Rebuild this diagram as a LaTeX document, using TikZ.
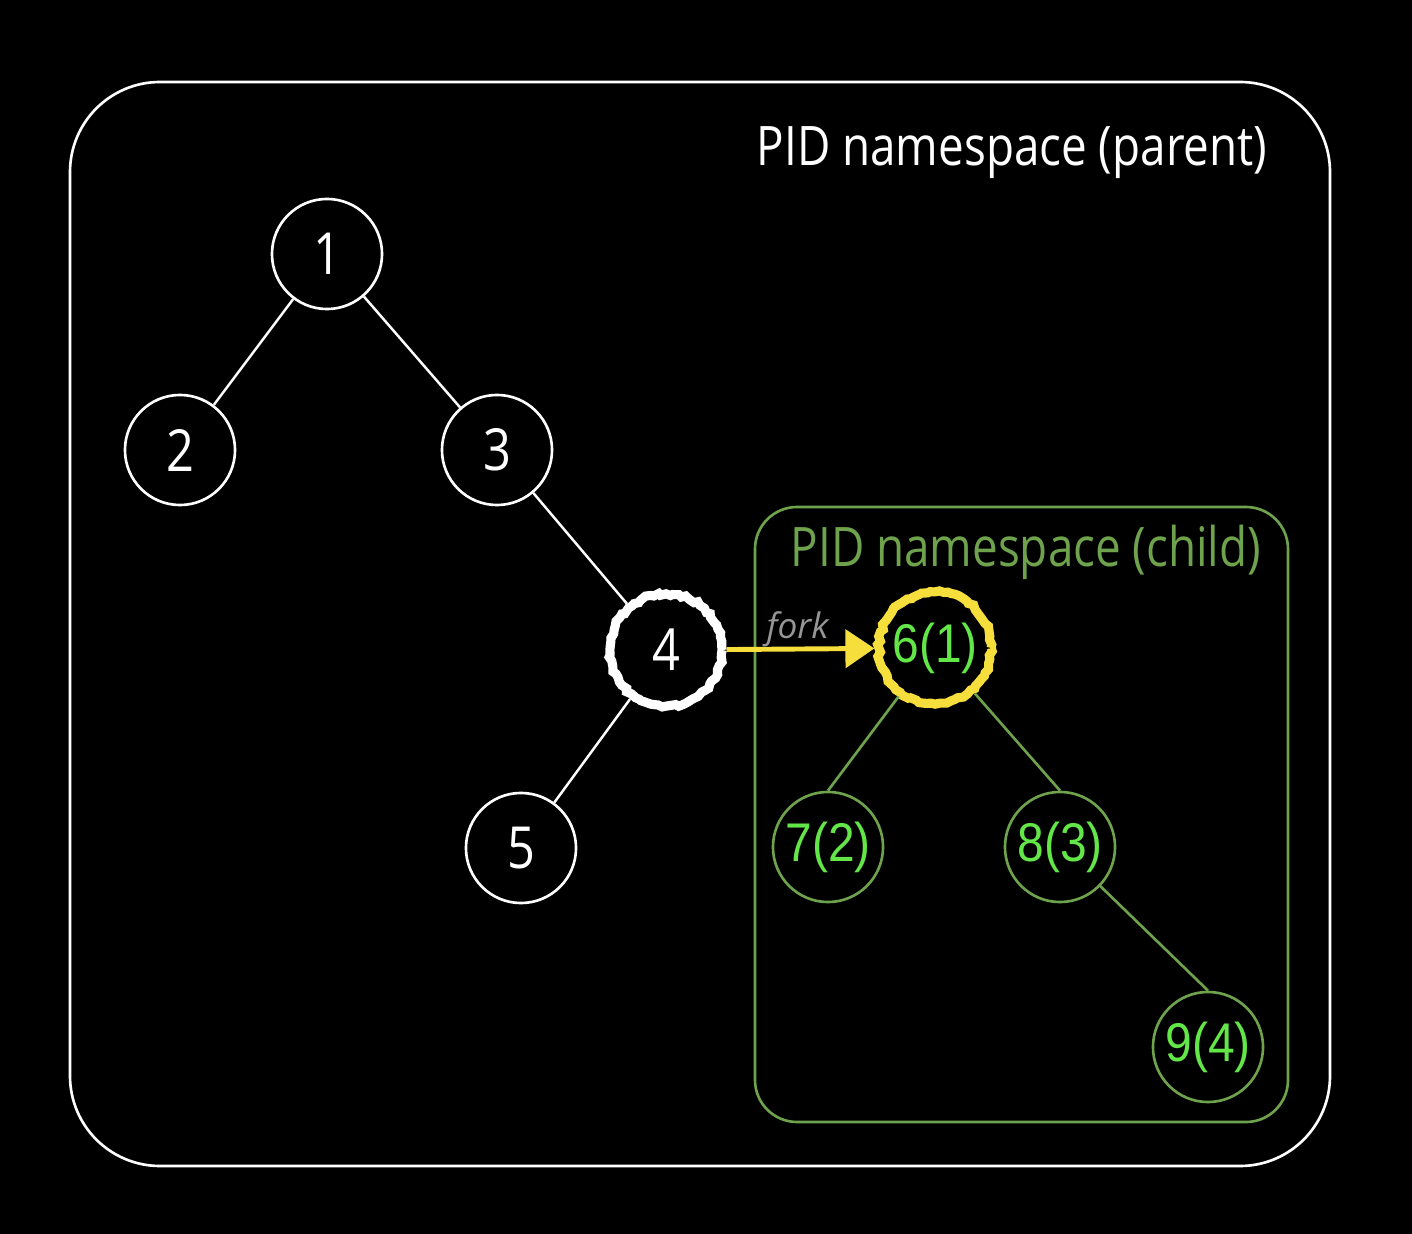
\documentclass[tikz,border=0pt]{standalone}
\usepackage{fontspec}
\setmainfont[FakeStretch=0.84]{Open Sans}
\newfontfamily\pidfont[FakeStretch=0.88]{Liberation Sans}
\newfontfamily\forkfont{Open Sans}
\usetikzlibrary{
    arrows.meta,
    positioning,
    decorations.pathmorphing
}
\definecolor{NsGreen}{RGB}{110,162,76}
\definecolor{PidGreen}{RGB}{98,230,72}
\definecolor{ForkYellow}{RGB}{246,222,60}
\definecolor{ForkGray}{RGB}{150,150,150}
\tikzset{
  proc/.style    = {draw=white, circle, line width=0.75pt, minimum size=1.1cm,
                    inner sep=0pt, text=white, font=\fontsize{16.5}{20}\selectfont},
  cproc/.style   = {draw=NsGreen, circle, line width=0.75pt, minimum size=1.1cm,
                    inner sep=0pt, text=PidGreen, font=\pidfont\fontsize{15.5}{19}\selectfont},
  rough/.style   = {line width=2.6pt, minimum size=1.12cm, decorate,
                    decoration={random steps, segment length=1.2pt, amplitude=0.45pt}},
  edge/.style    = {white, line width=0.7pt},
  cedge/.style   = {NsGreen, line width=0.75pt},
  arr/.style     = {-{Triangle[length=2.9mm,width=3.8mm]}, ForkYellow, line width=1.4pt}
}

\begin{document}
\begin{tikzpicture}[
    x=0.01cm, y=-0.01cm,
    title/.style={font=\fontsize{15.5}{19}\selectfont, inner sep=0pt}
]
\fill[black] (0,0) rectangle (1412,1234);
\useasboundingbox (0,0) rectangle (1412,1234);

% namespaces
\draw[white, line width=0.75pt, rounded corners=0.9cm] (70,82) rectangle (1330,1166);
\draw[NsGreen, line width=0.75pt, rounded corners=0.42cm] (755,507) rectangle (1288,1122);
\node[title, text=white, anchor=base east] (ptitle) at (1268,166) {PID namespace (parent)};
\node[title, text=NsGreen, anchor=base west] (ctitle) at (790,567) {PID namespace (child)};

% parent tree
\node[proc] (p1) at (327,254) {1};
\node[proc] (p2) at (180,450) {2};
\node[proc] (p3) at (497,450) {3};
\node[proc, rough] (p4) at (666,650) {4};
\node[proc] (p5) at (521,848) {5};

% child tree
\node[cproc, draw=ForkYellow, rough] (c6) at (935,648) {6(1)};
\node[cproc] (c7) at (828,847) {7(2)};
\node[cproc] (c8) at (1060,847) {8(3)};
\node[cproc] (c9) at (1208,1047) {9(4)};

\draw[edge] (p1) -- (p2);
\draw[edge] (p1) -- (p3);
\draw[edge] (p3) -- (p4);
\draw[edge] (p4) -- (p5);
\draw[cedge] (c6) -- (c7.north);
\draw[cedge] (c6) -- (c8.north);
\draw[cedge] (c8) -- (c9.north);

\draw[arr] (p4) -- node[above, pos=0.48, inner sep=0pt, text=ForkGray,
    font=\forkfont\itshape\fontsize{10}{12}\selectfont] (fork) {fork} (c6);
\end{tikzpicture}
\end{document}
